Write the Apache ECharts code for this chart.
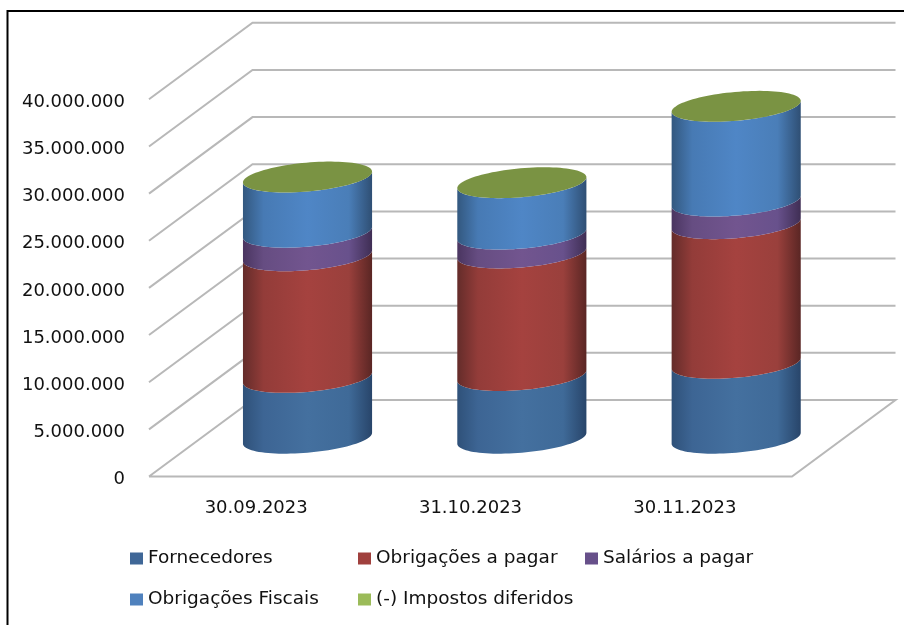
<!DOCTYPE html>
<html><head><meta charset="utf-8">
<style>html,body{margin:0;padding:0;background:#fff;overflow:hidden}#c{width:904px;height:625px}</style>
<script src="https://cdn.jsdelivr.net/npm/echarts@6/dist/echarts.min.js"></script>
</head><body><div id="c"></div>
<script>
const categories = ['30.09.2023', '31.10.2023', '30.11.2023'];
const seriesNames = ['Fornecedores', 'Obrigações a pagar', 'Salários a pagar', 'Obrigações Fiscais', '(-) Impostos diferidos'];
const fornecedores = [6450000, 6650000, 7950000];
const obrigacoesPagar = [12900000, 13000000, 14800000];
const salariosPagar = [2500000, 2000000, 2400000];
const obrigacoesFiscais = [5850000, 5450000, 10050000];
const impostosDiferidos = [0, 0, 0];
const yTicks = [0, 5000000, 10000000, 15000000, 20000000, 25000000, 30000000, 35000000, 40000000];

const allValues = [fornecedores, obrigacoesPagar, salariosPagar, obrigacoesFiscais, impostosDiferidos];
const legendColors = ['#3F6797', '#A0403D', '#67508A', '#4F81BD', '#9BBB59'];
const sideStops = [
  ['#2F5179', '#3D6594', '#44709F', '#3F6A98', '#28456A'],
  ['#642C2A', '#933C39', '#A5423F', '#9A403C', '#5A2624'],
  ['#4A3560', '#664D82', '#72558F', '#68518C', '#3F2E54'],
  ['#33587F', '#477AB4', '#4F86C6', '#4A7EB8', '#2F4F74'],
  ['#7A9343', '#7A9343', '#7A9343', '#7A9343', '#7A9343']
];
const capColor = '#7A9343';
const DEPTH_X = 103.5, DEPTH_Y = 76.5;
const ELL_A = 64.8, ELL_B = 14.4, ELL_ROT = -5.08 * Math.PI / 180;

function fmt(v) { return '{t|' + String(v).replace(/\B(?=(\d{3})+$)/g, '.') + '}'; }
function ell(cx, cy, t) {
  const x = ELL_A * Math.cos(t), y = ELL_B * Math.sin(t);
  return [cx + x * Math.cos(ELL_ROT) - y * Math.sin(ELL_ROT), cy + x * Math.sin(ELL_ROT) + y * Math.cos(ELL_ROT)];
}
const T_R = Math.atan2(-ELL_B * Math.sin(ELL_ROT), ELL_A * Math.cos(ELL_ROT));
function lowerArc(cx, cy, rev) {
  const pts = [];
  for (let i = 0; i <= 48; i++) {
    const t = (T_R + Math.PI) - Math.PI * i / 48;
    pts.push(ell(cx, cy, t));
  }
  return rev ? pts.reverse() : pts;
}
function fullEllipse(cx, cy) {
  const pts = [];
  for (let i = 0; i < 96; i++) pts.push(ell(cx, cy, 2 * Math.PI * i / 96));
  return pts;
}

function renderWall(params, api) {
  const cs = params.coordSys;
  const y = api.coord([0, api.value(0)])[1];
  const x0 = cs.x, x1 = cs.x + cs.width;
  const ls = { stroke: '#B8B8B8', lineWidth: 2, fill: null };
  const pts = [[x0, y], [x0 + DEPTH_X, y - DEPTH_Y], [x1 + DEPTH_X, y - DEPTH_Y]];
  if (api.value(0) === 0) { pts.push([x1, y], [x0, y]); }
  return { type: 'polyline', shape: { points: pts }, style: ls, silent: true };
}

function makeRender(si) {
  return function (params, api) {
    const cat = api.value(0), base = api.value(1), top = api.value(2);
    const pb = api.coord([cat, base]), pt = api.coord([cat, top]);
    const cx = pb[0] + DEPTH_X / 2 - 0.4, by = pb[1] - DEPTH_Y / 2, ty = pt[1] - DEPTH_Y / 2;
    const children = [];
    const s = sideStops[si];
    if (top > base) {
      children.push({
        type: 'polygon',
        shape: { points: lowerArc(cx, by, false).concat(lowerArc(cx, ty, true)) },
        style: {
          fill: new echarts.graphic.LinearGradient(0, 0, 1, 0, [
            { offset: 0, color: s[0] }, { offset: 0.16, color: s[1] }, { offset: 0.5, color: s[2] },
            { offset: 0.82, color: s[3] }, { offset: 1, color: s[4] }
          ])
        }
      });
    }
    if (si === seriesNames.length - 1) {
      children.push({ type: 'polygon', shape: { points: fullEllipse(cx, ty) }, style: { fill: capColor } });
    }
    return { type: 'group', children: children };
  };
}

const cum = categories.map(() => 0);
const cylSeries = seriesNames.map((name, si) => {
  const data = categories.map((c, i) => {
    const b = cum[i]; cum[i] += allValues[si][i];
    return [i, b, cum[i]];
  });
  return {
    name, type: 'custom', renderItem: makeRender(si), data, clip: false, z: 3 + si,
    encode: { x: 0, y: 2 }, itemStyle: { color: legendColors[si] }, silent: true
  };
});

const legendPos = [[130, 549], [358, 549], [585, 549], [130, 590], [358, 590]];
const FONT = 'DejaVu Sans';
const legendFont = { fontFamily: FONT, fontSize: 18.5, color: '#111' };

const chart = echarts.init(document.getElementById('c'), null, { renderer: 'canvas' });
chart.setOption({
  animation: false,
  backgroundColor: '#fff',
  grid: { left: 149, top: 99.3, width: 643, height: 377.2, containLabel: false },
  xAxis: {
    type: 'category', data: categories,
    axisLine: { show: false }, axisTick: { show: false }, splitLine: { show: false },
    axisLabel: { margin: 23, fontFamily: FONT, fontSize: 18, color: '#111' }
  },
  yAxis: {
    type: 'value', min: 0, max: 40000000, interval: 5000000,
    axisLine: { show: false }, axisTick: { show: false }, splitLine: { show: false },
    axisLabel: {
      margin: 24, fontFamily: FONT, fontSize: 18, color: '#111', formatter: fmt,
      rich: { t: { fontFamily: FONT, fontSize: 18, color: '#111', padding: [6, 0, 0, 0] } }
    }
  },
  legend: seriesNames.map((n, i) => ({
    data: [{ name: n, icon: 'rect' }], left: legendPos[i][0], top: legendPos[i][1], padding: 0,
    itemWidth: 13, itemHeight: 12, textStyle: legendFont, selectedMode: false
  })),
  graphic: [{
    type: 'rect', shape: { x: 7.5, y: 11, width: 1000, height: 1000 },
    style: { fill: null, stroke: '#000', lineWidth: 2 }, silent: true, z: 0
  }],
  series: [{
    type: 'custom', name: 'walls', renderItem: renderWall, clip: false, silent: true, z: 1,
    data: yTicks.map(v => [v]), encode: { y: 0 }, legendHoverLink: false
  }].concat(cylSeries)
});
</script></body></html>
